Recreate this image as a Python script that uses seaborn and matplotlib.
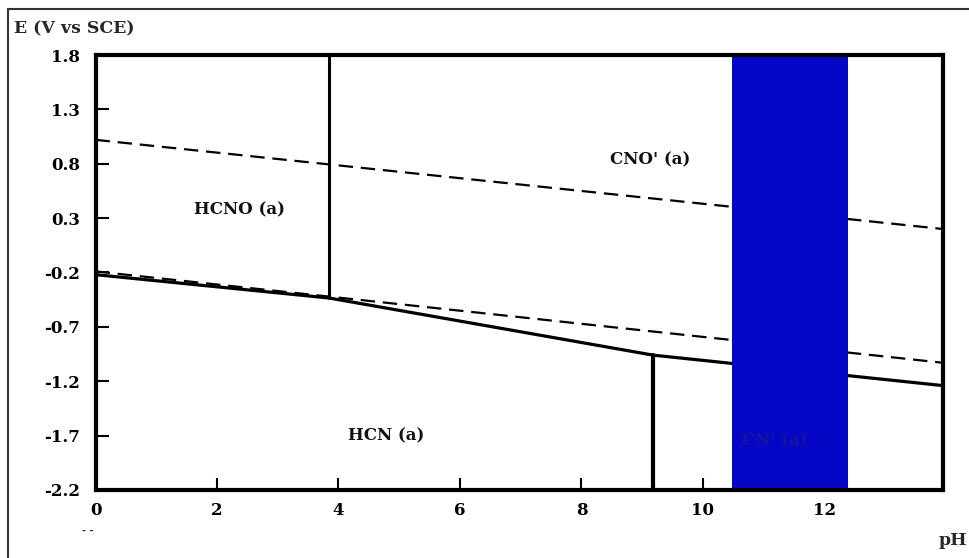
import pandas as pd
import matplotlib.pyplot as plt
import seaborn as sns
from matplotlib.patches import Rectangle

# boundary lines (pH, E in V vs SCE)
solid_ph = [0.0, 3.85, 9.18, 13.95]
solid_e = [-0.22, -0.435, -0.96, -1.24]
upper_ph = [0.0, 13.95]
upper_e = [1.02, 0.20]
lower_ph = [0.0, 13.95]
lower_e = [-0.19, -1.03]
vert1_ph = [3.85, 3.85]
vert1_e = [1.8, -0.435]
vert2_ph = [9.18, 9.18]
vert2_e = [-0.96, -2.2]
band_ph = [10.48, 12.39]

x_ticks = [0, 2, 4, 6, 8, 10, 12]
y_ticks = [1.8, 1.3, 0.8, 0.3, -0.2, -0.7, -1.2, -1.7, -2.2]

region_names = ["HCNO (a)", "CNO' (a)", "HCN (a)", "CN' (a)"]
region_ph = [2.37, 9.13, 4.79, 11.19]
region_e = [0.38, 0.84, -1.70, -1.75]

sns.set_theme(style="ticks", rc={'xtick.direction': 'in', 'ytick.direction': 'in',
                                 'xtick.major.size': 9, 'ytick.major.size': 9,
                                 'xtick.major.width': 1.5, 'ytick.major.width': 1.5})
plt.rcParams['font.family'] = ['DejaVu Serif', 'Liberation Serif']
plt.rcParams['font.weight'] = 'bold'

fig = plt.figure(figsize=(9.7, 5.58), dpi=100)
ax = fig.add_axes([0.0985, 0.1219, 0.8735, 0.7795])

def draw(xs, ys, **kw):
    sns.lineplot(x=xs, y=ys, color='black', ax=ax, sort=False,
                 estimator=None, **kw)

draw(solid_ph, solid_e, lw=2.3)
draw(upper_ph, upper_e, lw=1.6, linestyle=(0, (6.5, 3.5)))
draw(lower_ph, lower_e, lw=1.6, linestyle=(0, (6.5, 3.5)))
draw(vert1_ph, vert1_e, lw=2.2)
draw(vert2_ph, vert2_e, lw=3)

ax.axvspan(band_ph[0], band_ph[1], color='#0606c6', zorder=5, lw=0)

for name, px, pe in zip(region_names, region_ph, region_e):
    col = '#16169a' if name.startswith("CN'") else '#111111'
    ax.text(px, pe, name, ha='center', va='center', fontsize=12,
            fontweight='bold', color=col, zorder=6)

ax.set_xlim(0, 13.95)
ax.set_ylim(-2.2, 1.8)
ax.set_xticks(x_ticks)
ax.set_yticks(y_ticks)
ax.set_xticklabels([str(t) for t in x_ticks])
ax.set_yticklabels([f"{t:.1f}" for t in y_ticks])
ax.tick_params(labelsize=12, colors='black')
ax.tick_params(axis='y', pad=11)
ax.tick_params(axis='x', pad=9)
for lab in ax.get_xticklabels() + ax.get_yticklabels():
    lab.set_fontweight('bold')
ax.set_xlabel('')
ax.set_ylabel('')
for s in ax.spines.values():
    s.set_visible(True)
    s.set_color('black')
    s.set_linewidth(3)
    s.set_zorder(7)

fig.text(0.014, 0.948, 'E (V vs SCE)', fontsize=12.5, fontweight='bold',
         ha='left', va='center')
fig.text(0.997, 0.032, 'pH', fontsize=12.5, fontweight='bold',
         ha='right', va='center')
fig.text(0.09, 0.05, '- -', fontsize=7, fontweight='bold', ha='center',
         va='center', color='#333333')

# outer frame (top and left edges)
fig.add_artist(Rectangle((8 / 970, -0.2), 1.2, 1 - 9 / 558 + 0.2,
                         transform=fig.transFigure, fill=False,
                         edgecolor='#333333', lw=1.5, clip_on=False))

fig.savefig('out.png', dpi=100)
